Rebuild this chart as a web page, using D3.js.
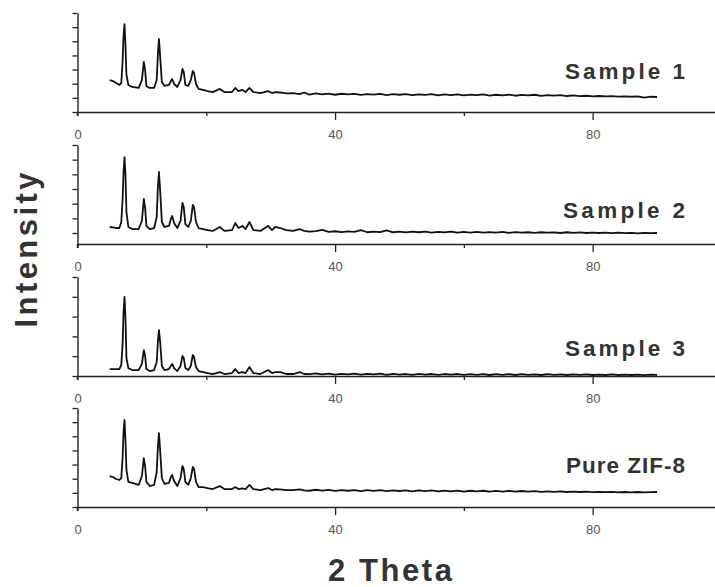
<!DOCTYPE html>
<html><head><meta charset="utf-8">
<script src="https://cdn.jsdelivr.net/npm/d3@7"></script>
<style>
body{margin:0;background:#fff;}
svg{display:block;}
</style></head><body>
<svg id="chart" width="715" height="587"></svg>
<script>
// 2-theta sampling positions (degrees)
const theta = [
  5, 5.5, 6, 6.5, 6.8, 7.0, 7.15, 7.3, 7.45, 7.6,
  7.9, 8.5, 9.5, 10.0, 10.3, 10.5, 10.7, 11.2, 11.9, 12.3,
  12.5, 12.65, 12.85, 13.1, 13.5, 14.2, 14.5, 14.7, 15.0, 15.5,
  16.0, 16.3, 16.5, 16.75, 17.2, 17.6, 17.9, 18.1, 18.4, 18.8,
  19.5, 20.2, 21.0, 22.1, 22.8, 24.0, 24.5, 25.0, 25.6, 26.1,
  26.7, 27.3, 28.4, 29.6, 30.2, 30.7, 31.5, 32.4, 33.5, 34.5,
  35.2, 36, 37, 38, 39, 40, 41, 42, 43, 44,
  45, 46, 47, 48, 49, 50, 51, 52, 53, 54,
  55, 56, 57, 58, 59, 60, 61, 62, 63, 64,
  65, 66, 67, 68, 69, 70, 71, 72, 73, 74,
  75, 76, 77, 78, 79, 80, 81, 82, 83, 84,
  85, 86, 87, 88, 89, 90
];
// intensities (counts)
const sample1 = [
  2260, 2190, 2050, 1910, 2050, 3540, 5440, 6220, 4740, 2620,
  1910, 1770, 1700, 2260, 3540, 2970, 1840, 1700, 1700, 2260,
  4240, 5160, 3820, 2120, 1840, 1910, 2190, 2330, 1980, 1770,
  2260, 3040, 2830, 1910, 1840, 2260, 2900, 2760, 1980, 1630,
  1560, 1480, 1410, 1630, 1410, 1410, 1700, 1480, 1560, 1410,
  1700, 1410, 1340, 1480, 1340, 1410, 1380, 1310, 1340, 1270,
  1380, 1230, 1310, 1250, 1300, 1220, 1290, 1240, 1280, 1210,
  1270, 1230, 1280, 1200, 1260, 1220, 1270, 1190, 1250, 1210,
  1260, 1180, 1240, 1200, 1250, 1170, 1230, 1190, 1240, 1160,
  1220, 1180, 1230, 1150, 1210, 1170, 1220, 1140, 1200, 1160,
  1190, 1130, 1170, 1120, 1150, 1110, 1130, 1100, 1120, 1090,
  1110, 1080, 1100, 1020, 1080, 1060
];
const sample2 = [
  1160, 1130, 1090, 1090, 1500, 3000, 4910, 5930, 4710, 2180,
  1160, 1020, 1020, 1570, 3070, 2460, 1230, 1020, 1090, 1840,
  4020, 4910, 3550, 1500, 1160, 1230, 1710, 1910, 1430, 1090,
  1570, 2800, 2520, 1360, 1160, 1570, 2660, 2520, 1500, 1090,
  1020, 950, 890, 1160, 890, 950, 1430, 1090, 1230, 1020,
  1500, 950, 890, 1230, 950, 1160, 1090, 950, 890, 1020,
  890, 840, 880, 960, 830, 870, 810, 860, 820, 940,
  800, 850, 810, 930, 800, 850, 790, 840, 800, 850,
  780, 830, 790, 840, 770, 820, 780, 830, 770, 810,
  780, 820, 760, 810, 770, 800, 760, 800, 770, 790,
  750, 800, 760, 790, 750, 780, 750, 780, 740, 770,
  740, 760, 730, 760, 740, 750
];
const sample3 = [
  350, 350, 350, 350, 560, 1570, 3230, 3990, 2930, 910,
  400, 300, 300, 610, 1310, 1010, 350, 250, 300, 710,
  1820, 2320, 1670, 510, 300, 350, 510, 610, 400, 250,
  510, 1010, 910, 400, 300, 510, 1060, 960, 450, 250,
  200, 150, 100, 200, 100, 150, 350, 150, 200, 150,
  450, 150, 100, 300, 150, 200, 200, 100, 100, 200,
  100, 90, 130, 80, 120, 70, 110, 80, 120, 70,
  110, 80, 120, 60, 110, 70, 100, 60, 110, 70,
  100, 60, 100, 70, 100, 60, 90, 60, 100, 50,
  90, 60, 90, 50, 90, 60, 80, 50, 90, 60,
  80, 50, 80, 60, 80, 50, 70, 50, 80, 50,
  70, 50, 70, 40, 70, 60
];
const pureZIF8 = [
  2190, 2120, 1980, 1910, 2050, 3460, 5300, 6150, 4740, 2620,
  1770, 1700, 1560, 2190, 3460, 2900, 1770, 1480, 1560, 2470,
  4380, 5230, 3890, 2050, 1630, 1700, 2120, 2260, 1840, 1480,
  2050, 2900, 2690, 1770, 1560, 2050, 2830, 2690, 1770, 1410,
  1410, 1340, 1270, 1480, 1270, 1270, 1410, 1270, 1310, 1270,
  1560, 1270, 1200, 1340, 1200, 1270, 1240, 1200, 1200, 1240,
  1170, 1150, 1220, 1160, 1210, 1140, 1200, 1150, 1200, 1130,
  1190, 1140, 1190, 1120, 1180, 1130, 1180, 1110, 1170, 1120,
  1170, 1100, 1160, 1110, 1160, 1090, 1150, 1100, 1150, 1080,
  1140, 1090, 1140, 1080, 1130, 1080, 1120, 1070, 1110, 1070,
  1100, 1060, 1090, 1060, 1080, 1050, 1070, 1050, 1070, 1040,
  1060, 1040, 1060, 1040, 1050, 1060
];
const seriesNames = ["Sample 1", "Sample 2", "Sample 3", "Pure ZIF-8"];
const xTickValues = [0, 20, 40, 60, 80];
const xTickLabels = ["0", "", "40", "", "80"];
const yTicks1 = [0, 1000, 2000, 3000, 4000, 5000, 6000, 7000];
const yTicks2 = [750, 1750, 2750, 3750, 4750, 5750, 6750];
const yTicks3 = [0, 1000, 2000, 3000, 4000, 5000];
const yTicks4 = [0, 1000, 2000, 3000, 4000, 5000, 6000, 7000];
const yMax = [7000, 6750, 5000, 7000];
const xLabel = "2 Theta";
const yLabel = "Intensity";

// ---- layout (positions / styles) ----
const series = [sample1, sample2, sample3, pureZIF8];
const yTicksAll = [yTicks1, yTicks2, yTicks3, yTicks4];
const layout = [
  {axisY: 112, top: 13, labelY: 79, labelW: 120},
  {axisY: 244, top: 145, labelY: 218, labelW: 122},
  {axisY: 376, top: 277, labelY: 356, labelW: 120},
  {axisY: 507, top: 408, labelY: 473, labelW: 119}
];
const axisColor = "#222";
const font = "'Liberation Sans', Arial, sans-serif";
const svg = d3.select("#chart");
const x = d3.scaleLinear().domain([0, 99]).range([77.5, 715]);

layout.forEach((L, i) => {
  const y = d3.scaleLinear().domain([0, yMax[i]]).range([L.axisY, L.top]);
  const g = svg.append("g");

  // y axis
  const ya = g.append("g").attr("transform", `translate(${x(0)},0)`)
    .call(d3.axisLeft(y).tickValues(yTicksAll[i]).tickSize(5).tickSizeOuter(0).tickFormat(""));
  ya.select(".domain").attr("stroke", axisColor).attr("stroke-width", 1.4);
  ya.selectAll(".tick line").attr("stroke", axisColor).attr("stroke-width", 1.3);
  g.append("line").attr("x1", x(0)).attr("x2", x(0))
    .attr("y1", L.axisY).attr("y2", L.axisY + 4)
    .attr("stroke", axisColor).attr("stroke-width", 1.4);

  // x axis
  const xa = g.append("g").attr("transform", `translate(0,${L.axisY})`)
    .call(d3.axisBottom(x).tickValues(xTickValues).tickSize(8).tickSizeOuter(0)
      .tickPadding(10).tickFormat((d, k) => xTickLabels[k]));
  xa.select(".domain").attr("stroke", axisColor).attr("stroke-width", 1.4);
  xa.selectAll(".tick line").attr("stroke", axisColor).attr("stroke-width", 1.3)
    .attr("y2", d => (d === 0 ? 4 : (xTickLabels[xTickValues.indexOf(d)] ? 8 : 4)));
  xa.selectAll(".tick text").attr("fill", "#555")
    .attr("font-family", font).attr("font-size", 13);

  // trace
  const line = d3.line().x((d, k) => x(theta[k])).y(d => y(d));
  g.append("path").datum(series[i]).attr("d", line)
    .attr("fill", "none").attr("stroke", "#111").attr("stroke-width", 1.8)
    .attr("stroke-linejoin", "round");

  // label
  g.append("text").attr("x", 685 - L.labelW).attr("y", L.labelY)
    .attr("textLength", L.labelW).attr("lengthAdjust", "spacing")
    .attr("font-family", font)
    .attr("font-weight", "bold").attr("font-size", 22.5).attr("fill", "#333")
    .text(seriesNames[i]);
});

svg.append("text").attr("x", 328).attr("y", 581)
  .attr("textLength", 124).attr("lengthAdjust", "spacing")
  .attr("font-family", font)
  .attr("font-weight", "bold").attr("font-size", 31).attr("fill", "#333")
  .text(xLabel);

svg.append("text").attr("transform", "translate(37,250) rotate(-90)")
  .attr("x", -77.5).attr("y", 0)
  .attr("textLength", 155).attr("lengthAdjust", "spacing")
  .attr("font-family", font)
  .attr("font-weight", "bold").attr("font-size", 31).attr("fill", "#333")
  .text(yLabel);
</script>
</body></html>
